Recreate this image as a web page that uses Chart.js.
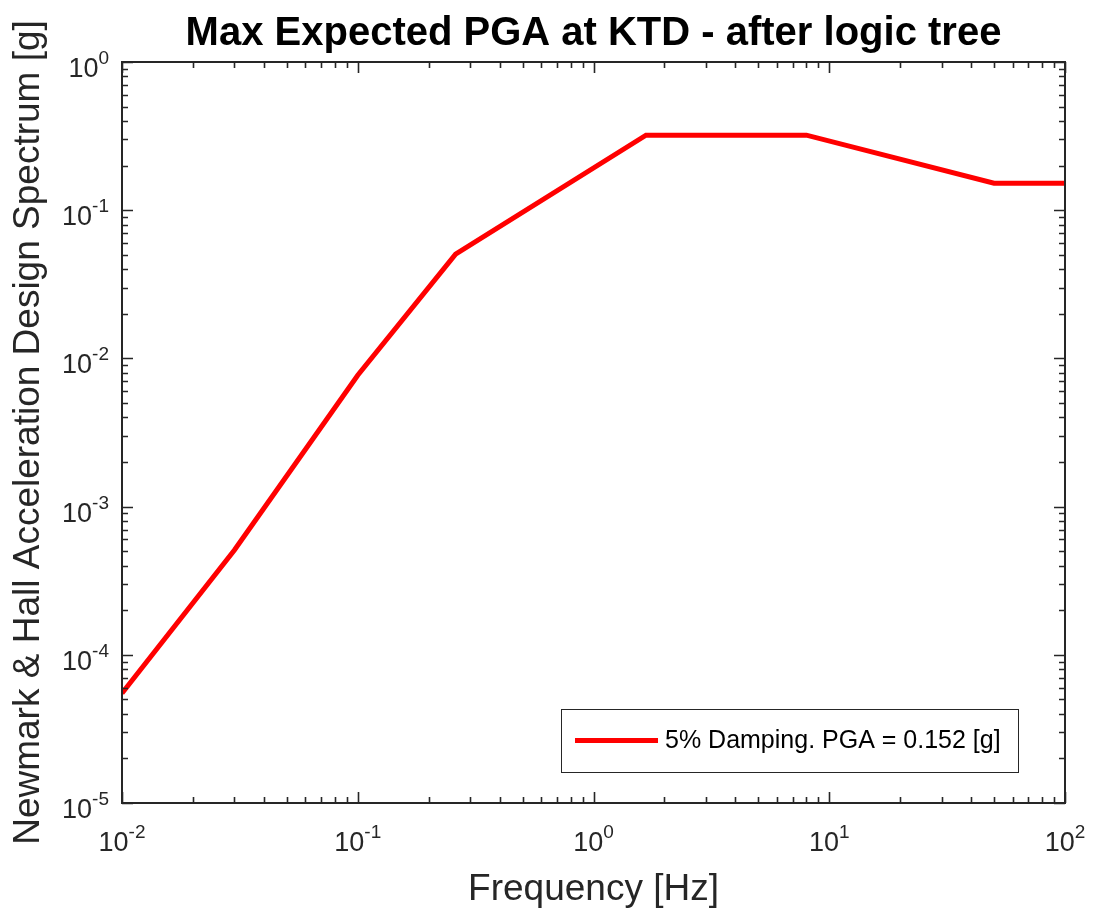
<!DOCTYPE html>
<html>
<head>
<meta charset="utf-8">
<title>Max Expected PGA at KTD</title>
<script src="https://cdn.jsdelivr.net/npm/chart.js@4.4.1/dist/chart.umd.min.js"></script>
<style>
    html, body { margin: 0; padding: 0; background: #fff; }
    #wrap { width: 1094px; height: 911px; position: relative; }
</style>
</head>
<body>
<div id="wrap"><canvas id="spectrumChart"></canvas></div>
<script>
// Newmark & Hall design spectrum corner points
const frequencies = [0.01, 0.03, 0.1, 0.26, 1.67, 8.0, 50, 100];
const accelerations = [5.5e-5, 5.1e-4, 7.7e-3, 0.0505, 0.321, 0.321, 0.152, 0.152];

// decade exponents for the tick labels
const xTickExps = [-2, -1, 0, 1, 2];
const yTickExps = [-5, -4, -3, -2, -1, 0];

const titleText = 'Max Expected PGA at KTD - after logic tree';
const xTitle = 'Frequency [Hz]';
const yTitle = 'Newmark & Hall Acceleration Design Spectrum [g]';
const seriesLabel = '5% Damping. PGA = 0.152 [g]';

const AXIS = '#262626';
const FONT = "'Liberation Sans', Arial, sans-serif";

function drawPow(ctx, exp, x, y, align, vAlign) {
    // draws "10" with a raised exponent, whole label aligned at (x, y)
    ctx.font = '27px ' + FONT;
    const baseW = ctx.measureText('10').width;
    ctx.font = '19px ' + FONT;
    const expW = ctx.measureText(String(exp)).width;
    const total = baseW + expW;
    const left = align === 'right' ? x - total : x - total / 2;
    const baseY = vAlign === 'top' ? y + 48 : y + 15;
    ctx.fillStyle = AXIS;
    ctx.textAlign = 'left';
    ctx.textBaseline = 'alphabetic';
    ctx.font = '27px ' + FONT;
    ctx.fillText('10', left, baseY);
    ctx.font = '19px ' + FONT;
    ctx.fillText(String(exp), left + baseW, baseY - 13);
}

const matlabAxes = {
    id: 'matlabAxes',
    afterDraw(chart) {
        const { ctx, chartArea: a, scales } = chart;
        const sx = scales.x, sy = scales.y;
        ctx.save();

        // box
        ctx.strokeStyle = AXIS;
        ctx.lineWidth = 2;
        ctx.strokeRect(a.left, a.top, a.right - a.left, a.bottom - a.top);

        // inward ticks on all four sides
        ctx.lineWidth = 1.6;
        ctx.beginPath();
        for (let e = xTickExps[0]; e < xTickExps[xTickExps.length - 1] + 1; e++) {
            for (let m = 1; m < 10; m++) {
                const v = m * Math.pow(10, e);
                if (v > sx.max * 1.0001) break;
                const px = Math.round(sx.getPixelForValue(v)) + 0.5;
                const len = m === 1 ? 11 : 6;
                ctx.moveTo(px, a.bottom); ctx.lineTo(px, a.bottom - len);
                ctx.moveTo(px, a.top); ctx.lineTo(px, a.top + len);
            }
        }
        for (let e = yTickExps[0]; e < yTickExps[yTickExps.length - 1] + 1; e++) {
            for (let m = 1; m < 10; m++) {
                const v = m * Math.pow(10, e);
                if (v > sy.max * 1.0001) break;
                const py = Math.round(sy.getPixelForValue(v)) + 0.5;
                const len = m === 1 ? 11 : 6;
                ctx.moveTo(a.left, py); ctx.lineTo(a.left + len, py);
                ctx.moveTo(a.right, py); ctx.lineTo(a.right - len, py);
            }
        }
        ctx.stroke();

        // tick labels
        xTickExps.forEach(e => drawPow(ctx, e, sx.getPixelForValue(Math.pow(10, e)), a.bottom, 'center', 'top'));
        yTickExps.forEach(e => drawPow(ctx, e, a.left - 13, sy.getPixelForValue(Math.pow(10, e)), 'right', 'middle'));

        // axis titles
        ctx.fillStyle = AXIS;
        ctx.textAlign = 'center';
        ctx.textBaseline = 'alphabetic';
        ctx.font = '37px ' + FONT;
        ctx.fillText(xTitle, (a.left + a.right) / 2, 900);
        ctx.save();
        ctx.translate(39, (a.top + a.bottom) / 2);
        ctx.rotate(-Math.PI / 2);
        ctx.fillText(yTitle, 0, 0);
        ctx.restore();

        // title
        ctx.fillStyle = '#000';
        ctx.font = 'bold 40px ' + FONT;
        ctx.fillText(titleText, (a.left + a.right) / 2, 45);

        // legend box (inside the axes, lower right)
        const lx = 561, ly = 709, lw = 457, lh = 63;
        ctx.fillStyle = '#fff';
        ctx.fillRect(lx, ly, lw, lh);
        ctx.strokeStyle = AXIS;
        ctx.lineWidth = 1;
        ctx.strokeRect(lx + 0.5, ly + 0.5, lw, lh);
        const ds = chart.data.datasets[0];
        ctx.strokeStyle = ds.borderColor;
        ctx.lineWidth = ds.borderWidth;
        ctx.beginPath();
        ctx.moveTo(575, ly + lh / 2);
        ctx.lineTo(658, ly + lh / 2);
        ctx.stroke();
        ctx.fillStyle = '#000';
        ctx.textAlign = 'left';
        ctx.textBaseline = 'middle';
        ctx.font = '25px ' + FONT;
        ctx.fillText(ds.label, 665, ly + lh / 2 + 1);

        ctx.restore();
    }
};

new Chart(document.getElementById('spectrumChart'), {
    type: 'line',
    data: {
        datasets: [{
            label: seriesLabel,
            data: frequencies.map((f, i) => ({ x: f, y: accelerations[i] })),
            borderColor: '#ff0000',
            borderWidth: 5,
            pointRadius: 0,
            tension: 0,
            fill: false
        }]
    },
    options: {
        responsive: true,
        maintainAspectRatio: false,
        animation: false,
        layout: { padding: { left: 122, right: 29, top: 62, bottom: 108 } },
        plugins: {
            legend: { display: false },
            title: { display: false },
            tooltip: { enabled: false }
        },
        scales: {
            x: { type: 'logarithmic', min: 0.01, max: 100, display: false },
            y: { type: 'logarithmic', min: 1e-5, max: 1, display: false }
        }
    },
    plugins: [matlabAxes]
});
</script>
</body>
</html>
